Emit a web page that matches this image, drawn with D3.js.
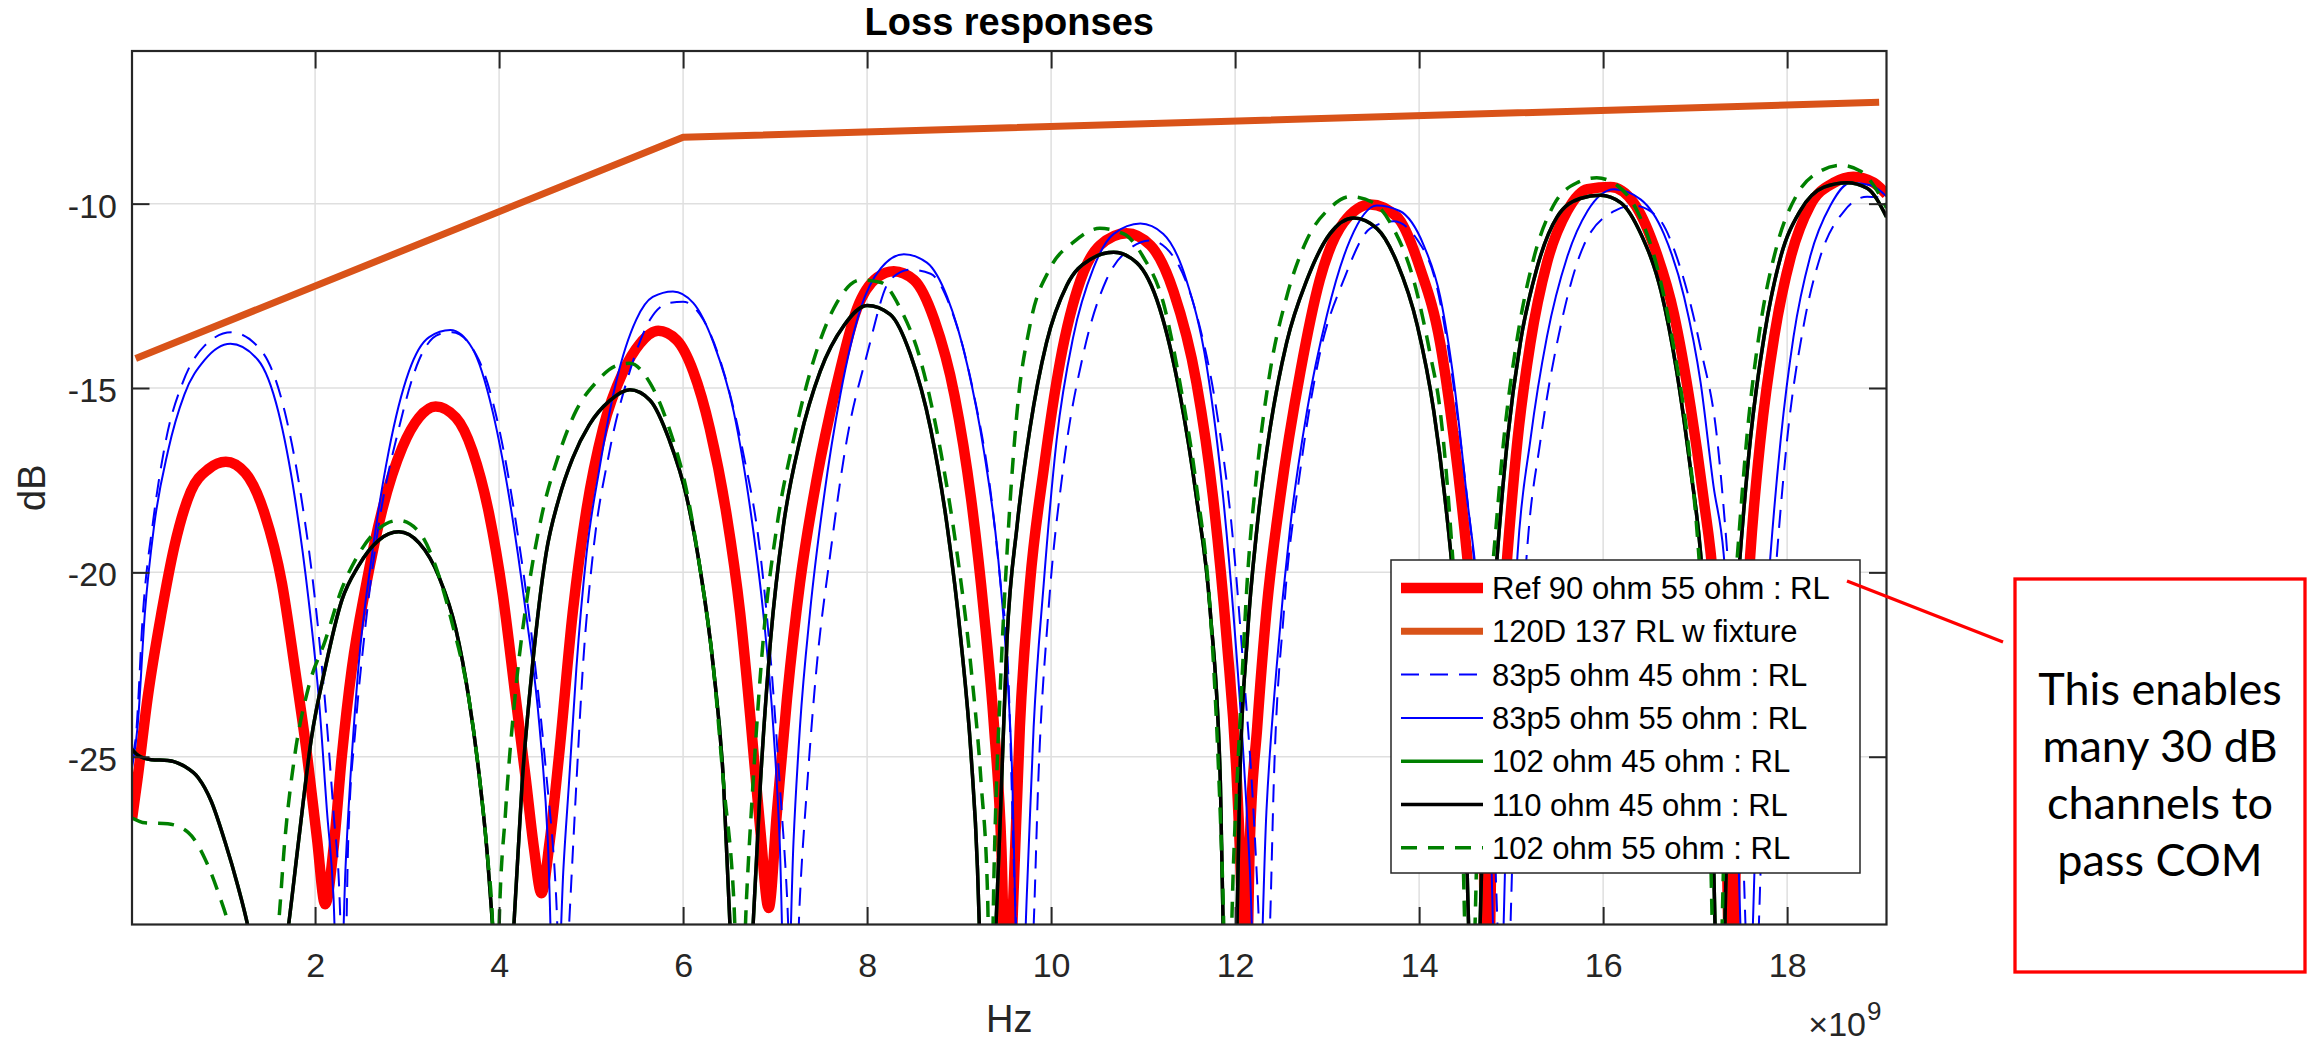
<!DOCTYPE html>
<html>
<head>
<meta charset="utf-8">
<script src="https://cdn.jsdelivr.net/npm/d3@7"></script>
<style>
  body { margin: 0; background: #fff; }
  text { font-family: "Liberation Sans", Arial, Helvetica, sans-serif; fill: #262626; }
</style>
</head>
<body>
<svg id="chart" width="2320" height="1044"></svg>
<script>
// tick values
var xTicks = [2, 4, 6, 8, 10, 12, 14, 16, 18];
var yTicks = [-25, -20, -15, -10];

// frequency in GHz, return loss in dB (nulls below the axis are clipped)
var ref90_55 = [[0.01,-26.7],[0.07,-25.6],[0.18,-23.4],[0.33,-21.1],[0.47,-19.3],[0.65,-17.8],[0.84,-17.2],[1.03,-17.0],[1.24,-17.3],[1.45,-18.4],[1.64,-20.3],[1.78,-22.6],[1.91,-24.9],[2.02,-27.2],[2.11,-29.0],[2.2,-27.5],[2.29,-25.0],[2.4,-22.6],[2.55,-20.4],[2.73,-18.3],[2.95,-16.6],[3.13,-15.8],[3.31,-15.5],[3.53,-15.8],[3.71,-16.7],[3.89,-18.4],[4.04,-20.6],[4.18,-23.4],[4.29,-25.6],[4.38,-27.5],[4.46,-28.7],[4.55,-27.3],[4.65,-25.0],[4.8,-21.1],[4.95,-18.3],[5.13,-16.1],[5.35,-14.55],[5.53,-13.8],[5.73,-13.45],[5.93,-13.7],[6.11,-14.55],[6.29,-16.1],[6.47,-18.4],[6.62,-21.1],[6.73,-23.9],[6.84,-27.0],[6.93,-29.1],[7.02,-26.5],[7.13,-23.4],[7.27,-20.3],[7.45,-17.5],[7.67,-14.9],[7.89,-12.85],[8.11,-12.0],[8.29,-11.83],[8.51,-12.07],[8.73,-13.15],[8.95,-15.2],[9.13,-18.0],[9.27,-21.1],[9.38,-24.2],[9.46,-27.5],[9.52,-33],[9.59,-28.8],[9.66,-24.2],[9.77,-20.3],[9.92,-17.2],[10.1,-14.25],[10.32,-12.07],[10.53,-11.13],[10.82,-10.8],[11.08,-11.13],[11.33,-12.38],[11.58,-14.86],[11.76,-17.97],[11.91,-21.85],[12.02,-25.7],[12.07,-28.8],[12.11,-33],[12.16,-27.3],[12.24,-24.2],[12.34,-21.07],[12.49,-17.97],[12.71,-14.55],[12.92,-12.07],[13.18,-10.51],[13.47,-10.02],[13.76,-10.36],[14.01,-11.75],[14.23,-13.8],[14.38,-16.4],[14.52,-19.5],[14.63,-22.6],[14.69,-25.7],[14.74,-33],[14.8,-25.7],[14.87,-22.6],[14.96,-19.5],[15.07,-16.4],[15.21,-13.77],[15.39,-11.6],[15.61,-10.2],[15.83,-9.61],[16.08,-9.55],[16.33,-9.97],[16.55,-11.13],[16.77,-13.0],[16.95,-15.5],[17.09,-17.97],[17.2,-20.3],[17.28,-23.5],[17.34,-27],[17.39,-33],[17.45,-27],[17.51,-23.5],[17.6,-19.5],[17.71,-16.4],[17.86,-13.6],[18.04,-11.44],[18.25,-10.05],[18.51,-9.43],[18.72,-9.27],[18.94,-9.43],[19.08,-9.75]];

// straight segments (drawn without smoothing)
var fixture120 = [[0.05,-14.2],[6.0,-8.2],[19.0,-7.25]];

var r83p5_45 = [[0.01,-25.0],[0.05,-24.5],[0.13,-21.07],[0.24,-18.6],[0.38,-16.4],[0.56,-14.86],[0.8,-13.85],[1.09,-13.49],[1.42,-14.0],[1.67,-15.64],[1.85,-17.97],[2.0,-20.76],[2.11,-23.56],[2.2,-26.5],[2.27,-29.1],[2.31,-33],[2.36,-27.3],[2.44,-24.2],[2.53,-21.85],[2.69,-18.74],[2.91,-16.1],[3.13,-14.24],[3.35,-13.54],[3.49,-13.49],[3.78,-14.24],[4.0,-16.1],[4.18,-18.6],[4.36,-21.85],[4.51,-25.4],[4.62,-28.8],[4.69,-33],[4.76,-29.6],[4.84,-25.73],[4.91,-22.6],[5.02,-19.5],[5.2,-16.72],[5.42,-14.55],[5.64,-13.15],[5.85,-12.69],[6.0,-12.66],[6.22,-13.15],[6.44,-14.55],[6.65,-16.72],[6.84,-19.5],[6.96,-22.6],[7.05,-25.73],[7.13,-28.8],[7.2,-33],[7.27,-28.8],[7.35,-25.73],[7.45,-22.6],[7.6,-19.5],[7.78,-16.4],[8.0,-14.08],[8.25,-12.07],[8.47,-11.79],[8.69,-11.9],[8.91,-12.84],[9.16,-15.17],[9.35,-17.97],[9.45,-20.3],[9.53,-22.5],[9.61,-29],[9.71,-33],[9.81,-29.6],[9.86,-25.7],[9.97,-21.07],[10.13,-17.2],[10.35,-14.08],[10.6,-12.07],[10.82,-11.29],[11.08,-11.0],[11.33,-11.44],[11.58,-13.0],[11.8,-15.64],[11.98,-19.2],[12.09,-22.6],[12.2,-26.5],[12.25,-29],[12.31,-33],[12.38,-29.5],[12.42,-25.73],[12.53,-21.07],[12.71,-17.2],[12.92,-14.08],[13.18,-12.07],[13.47,-10.67],[13.72,-10.48],[13.98,-10.98],[14.19,-12.22],[14.35,-14.5],[14.5,-17.5],[14.65,-21],[14.78,-25],[14.93,-33],[15.05,-25],[15.17,-19.5],[15.32,-16.4],[15.54,-13.3],[15.79,-11.13],[16.12,-10.2],[16.33,-10.05],[16.59,-10.36],[16.84,-11.75],[17.06,-13.93],[17.24,-16.4],[17.35,-19.5],[17.47,-24],[17.62,-33],[17.77,-24],[17.89,-19.5],[18.0,-16.4],[18.18,-13.3],[18.36,-11.44],[18.62,-10.2],[18.87,-9.81],[19.08,-9.85]];

var r83p5_55 = [[0.01,-25.3],[0.07,-24.2],[0.15,-21.1],[0.25,-18.74],[0.4,-16.72],[0.58,-15.17],[0.8,-14.24],[1.08,-13.8],[1.38,-14.24],[1.6,-15.64],[1.78,-17.97],[1.93,-20.76],[2.04,-23.4],[2.13,-26.5],[2.2,-28.8],[2.26,-33],[2.33,-28.06],[2.4,-24.95],[2.47,-22.6],[2.62,-19.5],[2.8,-16.72],[3.02,-14.55],[3.24,-13.62],[3.47,-13.43],[3.71,-13.93],[3.93,-15.64],[4.11,-17.97],[4.29,-21.07],[4.44,-24.2],[4.53,-27.3],[4.61,-33],[4.7,-28],[4.76,-25.7],[4.84,-22.6],[4.95,-19.5],[5.09,-17.2],[5.27,-14.86],[5.49,-13.15],[5.67,-12.53],[5.89,-12.38],[6.11,-12.69],[6.33,-13.77],[6.55,-15.64],[6.73,-18.28],[6.87,-21.07],[6.98,-24.2],[7.05,-27.3],[7.12,-33],[7.2,-27.3],[7.27,-24.2],[7.38,-21.07],[7.53,-17.97],[7.71,-15.17],[7.93,-12.84],[8.15,-11.75],[8.4,-11.37],[8.65,-11.6],[8.87,-12.53],[9.09,-14.39],[9.27,-16.72],[9.42,-19.5],[9.5,-21.85],[9.57,-25],[9.66,-33],[9.74,-28.5],[9.81,-24.2],[9.92,-20.3],[10.06,-16.41],[10.24,-13.62],[10.46,-11.75],[10.68,-10.82],[10.97,-10.54],[11.22,-10.82],[11.47,-12.07],[11.69,-14.39],[11.87,-17.97],[11.98,-21.07],[12.09,-24.95],[12.16,-28.06],[12.24,-33],[12.34,-26.5],[12.45,-22.6],[12.6,-18.74],[12.78,-15.64],[13.0,-13.0],[13.25,-10.98],[13.54,-10.05],[13.79,-10.2],[14.05,-11.13],[14.23,-12.53],[14.38,-14.86],[14.52,-17.97],[14.63,-20.3],[14.74,-24],[14.86,-33],[14.98,-24],[15.07,-19.5],[15.21,-16.4],[15.39,-13.6],[15.61,-11.44],[15.83,-10.2],[16.12,-9.61],[16.41,-9.89],[16.66,-10.82],[16.88,-12.53],[17.06,-14.86],[17.2,-17.66],[17.31,-19.5],[17.42,-24],[17.56,-33],[17.7,-24],[17.82,-19.5],[17.93,-16.4],[18.07,-13.6],[18.25,-11.44],[18.47,-10.05],[18.69,-9.43],[18.91,-9.5],[19.08,-9.8]];

var r110_45 = [[0.01,-24.8],[0.07,-24.95],[0.22,-25.08],[0.4,-25.1],[0.58,-25.26],[0.73,-25.57],[0.87,-26.2],[1.02,-27.3],[1.16,-28.5],[1.27,-29.6],[1.49,-33],[1.71,-29.6],[1.82,-27.3],[1.96,-24.5],[2.11,-22.6],[2.29,-20.76],[2.47,-19.83],[2.69,-19.13],[2.91,-18.9],[3.13,-19.2],[3.35,-20.14],[3.53,-21.54],[3.67,-23.4],[3.78,-25.42],[3.87,-27.6],[3.93,-29.6],[4.05,-33],[4.16,-29.6],[4.25,-25.73],[4.36,-22.6],[4.51,-19.5],[4.65,-18.0],[4.8,-16.9],[4.98,-16.0],[5.2,-15.35],[5.42,-15.05],[5.64,-15.33],[5.85,-16.41],[6.04,-17.97],[6.18,-19.83],[6.33,-22.6],[6.44,-25.73],[6.51,-29.6],[6.63,-33],[6.76,-29.6],[6.84,-25.73],[6.95,-21.85],[7.09,-18.74],[7.27,-16.41],[7.49,-14.55],[7.75,-13.3],[8.0,-12.76],[8.25,-13.0],[8.47,-14.08],[8.69,-16.1],[8.87,-18.74],[9.02,-21.85],[9.13,-24.95],[9.2,-28.06],[9.22,-29.6],[9.31,-33],[9.4,-29.6],[9.45,-26.5],[9.52,-21.85],[9.63,-18.74],[9.77,-16.1],[9.95,-13.77],[10.17,-12.22],[10.42,-11.52],[10.68,-11.32],[10.93,-11.6],[11.18,-12.84],[11.4,-15.17],[11.58,-17.97],[11.73,-21.07],[11.84,-25.73],[11.87,-29.6],[11.95,-33],[12.02,-29.6],[12.05,-25.73],[12.13,-21.85],[12.24,-18.74],[12.38,-16.1],[12.56,-13.77],[12.78,-12.07],[13.03,-10.82],[13.29,-10.39],[13.54,-10.67],[13.76,-11.6],[13.98,-13.3],[14.16,-15.64],[14.28,-17.97],[14.38,-20.5],[14.47,-24],[14.6,-33],[14.73,-24],[14.85,-19.5],[14.96,-16.4],[15.1,-13.77],[15.28,-11.75],[15.5,-10.36],[15.75,-9.86],[15.97,-9.77],[16.19,-9.97],[16.41,-10.82],[16.63,-12.38],[16.8,-14.55],[16.95,-17.2],[17.06,-19.5],[17.15,-23],[17.27,-33],[17.39,-23],[17.49,-19.5],[17.6,-16.4],[17.75,-13.6],[17.93,-11.44],[18.14,-10.2],[18.4,-9.55],[18.65,-9.43],[18.87,-9.58],[19.08,-10.36]];

// the 102/45 trace is not visible anywhere: it lies under the 110/45 trace
var r102_45 = r110_45;

var r102_55 = [[0.01,-26.66],[0.15,-26.79],[0.4,-26.82],[0.62,-27.05],[0.8,-27.75],[0.95,-28.7],[1.05,-29.46],[1.32,-33],[1.6,-29.6],[1.67,-27.3],[1.78,-24.95],[1.93,-23.1],[2.11,-21.85],[2.29,-20.45],[2.47,-19.52],[2.69,-18.82],[2.91,-18.59],[3.13,-18.9],[3.31,-19.83],[3.49,-21.38],[3.67,-23.4],[3.78,-25.42],[3.87,-27.6],[3.93,-29.6],[3.97,-33],[4.0,-29.6],[4.07,-26.5],[4.18,-23.2],[4.31,-20.6],[4.46,-18.5],[4.65,-16.8],[4.84,-15.6],[5.05,-14.86],[5.27,-14.4],[5.42,-14.33],[5.64,-14.86],[5.85,-16.1],[6.04,-17.81],[6.18,-19.83],[6.33,-22.6],[6.44,-25.73],[6.55,-28.83],[6.62,-33],[6.69,-28.8],[6.76,-25.73],[6.87,-21.85],[7.02,-18.74],[7.2,-16.41],[7.42,-14.24],[7.67,-12.69],[7.93,-12.07],[8.15,-12.14],[8.36,-12.84],[8.58,-14.24],[8.8,-16.72],[8.98,-19.52],[9.13,-22.6],[9.24,-25.73],[9.31,-28.8],[9.34,-33],[9.38,-28.06],[9.45,-23],[9.52,-19.5],[9.63,-15.64],[9.77,-13.3],[9.99,-11.75],[10.24,-11.05],[10.53,-10.67],[10.79,-10.82],[11.0,-11.44],[11.22,-12.69],[11.4,-14.86],[11.58,-17.66],[11.73,-21.07],[11.8,-24.2],[11.86,-28.06],[11.92,-33],[11.98,-28.06],[12.05,-24.2],[12.13,-20.3],[12.24,-17.2],[12.38,-14.55],[12.56,-12.53],[12.78,-10.98],[13.03,-10.12],[13.25,-9.81],[13.5,-9.97],[13.72,-10.67],[13.94,-12.07],[14.12,-14.08],[14.23,-15.64],[14.34,-18.74],[14.42,-22],[14.55,-33],[14.68,-23],[14.81,-19.52],[14.92,-16.4],[15.07,-13.6],[15.25,-11.44],[15.46,-10.05],[15.72,-9.43],[15.93,-9.3],[16.15,-9.5],[16.37,-10.2],[16.59,-11.75],[16.77,-13.93],[16.92,-16.41],[17.03,-19.2],[17.12,-23],[17.24,-33],[17.36,-23],[17.46,-19.52],[17.56,-16.4],[17.71,-13.3],[17.89,-11.13],[18.11,-9.74],[18.36,-9.12],[18.58,-8.96],[18.8,-9.12],[18.98,-9.66],[19.08,-10.12]];

var seriesNames = ['Ref 90 ohm 55 ohm : RL', '120D 137 RL w fixture', '83p5 ohm 45 ohm : RL',
  '83p5 ohm 55 ohm : RL', '102 ohm 45 ohm : RL', '110 ohm 45 ohm : RL', '102 ohm 55 ohm : RL'];

var noteLines = ['This enables', 'many 30 dB', 'channels to', 'pass COM'];

// plot order = legend order
var series = [
  {name: seriesNames[0], data: ref90_55,   color: '#ff0000', width: 10.5, dash: null},
  {name: seriesNames[1], data: fixture120, color: '#d95319', width: 7,    dash: null, straight: true},
  {name: seriesNames[2], data: r83p5_45,   color: '#0000ff', width: 2,    dash: '18,11'},
  {name: seriesNames[3], data: r83p5_55,   color: '#0000ff', width: 2,    dash: null},
  {name: seriesNames[4], data: r102_45,    color: '#008000', width: 3.5,  dash: null},
  {name: seriesNames[5], data: r110_45,    color: '#000000', width: 3.5,  dash: null},
  {name: seriesNames[6], data: r102_55,    color: '#008000', width: 3.5,  dash: '16,11'}
];

var plot = {left: 132, right: 1886.5, top: 51, bottom: 924.5};
var svg = d3.select('#chart');
svg.append('rect').attr('width', 2320).attr('height', 1044).attr('fill', '#fff');

var x = d3.scaleLinear().domain([0.01, 19.08]).range([plot.left, plot.right]);
var y = d3.scaleLinear().domain([-29.55, -5.86]).range([plot.bottom, plot.top]);

// grid
var grid = svg.append('g').attr('stroke', '#dfdfdf').attr('stroke-width', 1.5);
grid.selectAll('line.gx').data(xTicks).enter().append('line')
  .attr('x1', function(d) { return x(d); }).attr('x2', function(d) { return x(d); })
  .attr('y1', plot.top).attr('y2', plot.bottom);
grid.selectAll('line.gy').data(yTicks).enter().append('line')
  .attr('y1', function(d) { return y(d); }).attr('y2', function(d) { return y(d); })
  .attr('x1', plot.left).attr('x2', plot.right);

// curves
svg.append('clipPath').attr('id', 'clip').append('rect')
  .attr('x', plot.left).attr('y', plot.top)
  .attr('width', plot.right - plot.left).attr('height', plot.bottom - plot.top);

var smooth = d3.line()
  .x(function(d) { return x(d[0]); })
  .y(function(d) { return y(d[1]); })
  .curve(d3.curveMonotoneX);
var straight = d3.line()
  .x(function(d) { return x(d[0]); })
  .y(function(d) { return y(d[1]); });

svg.append('g').attr('clip-path', 'url(#clip)')
  .selectAll('path').data(series).enter().append('path')
  .attr('d', function(s) { return s.straight ? straight(s.data) : smooth(s.data); })
  .attr('fill', 'none')
  .attr('stroke', function(s) { return s.color; })
  .attr('stroke-width', function(s) { return s.width; })
  .attr('stroke-dasharray', function(s) { return s.dash; })
  .attr('stroke-linejoin', 'round');

// axes, ticks pointing inward on all four sides
var tickLen = 17.5;
function styleAxis(g) {
  g.select('.domain').remove();
  g.selectAll('.tick line').attr('stroke', '#262626').attr('stroke-width', 2);
  g.selectAll('.tick text').attr('fill', '#262626').style('font-size', '34px')
    .style('font-family', '"Liberation Sans", Arial, sans-serif');
}
svg.append('g').attr('transform', 'translate(0,' + plot.bottom + ')')
  .call(d3.axisBottom(x).tickValues(xTicks).tickSize(-tickLen).tickPadding(28)
    .tickFormat(function(d) { return String(d); }))
  .call(styleAxis);
svg.append('g').attr('transform', 'translate(0,' + plot.top + ')')
  .call(d3.axisTop(x).tickValues(xTicks).tickSize(-tickLen).tickFormat(''))
  .call(styleAxis);
svg.append('g').attr('transform', 'translate(' + plot.left + ',0)')
  .call(d3.axisLeft(y).tickValues(yTicks).tickSize(-tickLen).tickPadding(15)
    .tickFormat(function(d) { return String(d); }))
  .call(styleAxis)
  .selectAll('.tick text').attr('dy', '0.4em');
svg.append('g').attr('transform', 'translate(' + plot.right + ',0)')
  .call(d3.axisRight(y).tickValues(yTicks).tickSize(-tickLen).tickFormat(''))
  .call(styleAxis);

svg.append('rect')
  .attr('x', plot.left).attr('y', plot.top)
  .attr('width', plot.right - plot.left).attr('height', plot.bottom - plot.top)
  .attr('fill', 'none').attr('stroke', '#262626').attr('stroke-width', 2.2);

// labels
var cx = (plot.left + plot.right) / 2;
svg.append('text').attr('x', cx).attr('y', 35).attr('text-anchor', 'middle')
  .style('font-size', '38px').style('font-weight', 'bold').style('fill', '#000')
  .text('Loss responses');
svg.append('text').attr('x', cx).attr('y', 1032).attr('text-anchor', 'middle')
  .style('font-size', '38px').text('Hz');
svg.append('text').attr('transform', 'translate(45,' + ((plot.top + plot.bottom) / 2) + ') rotate(-90)')
  .attr('text-anchor', 'middle').style('font-size', '38px').text('dB');
svg.append('text').attr('x', 1866).attr('y', 1036).attr('text-anchor', 'end')
  .style('font-size', '34px').text('\u00d710');
svg.append('text').attr('x', 1867).attr('y', 1020).style('font-size', '26px').text('9');

// legend
var leg = {x: 1391, y: 560, w: 469, h: 313, row0: 588, step: 43.3};
var lg = svg.append('g');
lg.append('rect').attr('x', leg.x).attr('y', leg.y).attr('width', leg.w).attr('height', leg.h)
  .attr('fill', '#fff').attr('stroke', '#262626').attr('stroke-width', 1.5);
var rows = lg.selectAll('g.row').data(series).enter().append('g')
  .attr('transform', function(s, i) { return 'translate(0,' + (leg.row0 + i * leg.step) + ')'; });
rows.append('line').attr('x1', 1401).attr('x2', 1483).attr('y1', 0).attr('y2', 0)
  .attr('stroke', function(s) { return s.color; })
  .attr('stroke-width', function(s) { return s.width; })
  .attr('stroke-dasharray', function(s) { return s.dash; });
rows.append('text').attr('x', 1492).attr('y', 11)
  .style('font-size', '31px').style('fill', '#000')
  .text(function(s) { return s.name; });

// call-out
svg.append('line').attr('x1', 1847).attr('y1', 581).attr('x2', 2003).attr('y2', 642)
  .attr('stroke', '#ff0000').attr('stroke-width', 3.3);
svg.append('rect').attr('x', 2015).attr('y', 579).attr('width', 290).attr('height', 393)
  .attr('fill', 'none').attr('stroke', '#ff0000').attr('stroke-width', 3.3);
svg.append('g').selectAll('text').data(noteLines).enter().append('text')
  .attr('x', 2160).attr('y', function(d, i) { return 705 + i * 57; })
  .attr('text-anchor', 'middle')
  .style('font-family', 'Lato, "Open Sans", sans-serif').style('font-size', '45px').style('fill', '#000')
  .text(function(d) { return d; });
</script>
</body>
</html>
